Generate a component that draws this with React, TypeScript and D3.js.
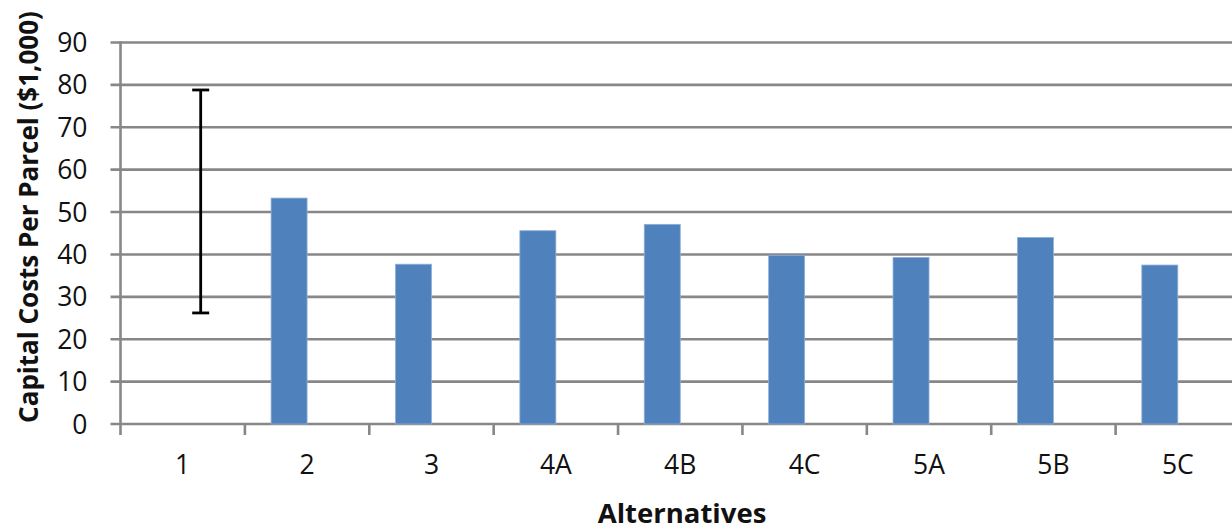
import React from "react";
import * as d3 from "d3";

const categories = ["1", "2", "3", "4A", "4B", "4C", "5A", "5B", "5C"];
const costValues: (number | null)[] = [null, 53.3, 37.7, 45.6, 47.1, 39.8, 39.3, 44.0, 37.5];
const rangeLow = [26.2];
const rangeHigh = [78.8];
const rangeCategories = ["1"];
const yTicks = [0, 10, 20, 30, 40, 50, 60, 70, 80, 90];

const W = 1232;
const H = 530;
const left = 120.5;
const right = 1240;
const top = 42.5;
const bottom = 424;
const grid = "#878787";
const font = "'Open Sans', sans-serif";

export default function App() {
  const x = d3.scaleBand<string>().domain(categories).range([left, right]).paddingInner(0).paddingOuter(0);
  const sub = d3.scaleBand<string>().domain(["cost", "range"]).range([0, x.bandwidth()]).paddingInner(0).paddingOuter(0.728);
  const y = d3.scaleLinear().domain([0, 90]).range([bottom, top]);
  const boundaries = categories.map((c) => x(c)!).concat([right]);

  return (
    <svg width={W} height={H} style={{ position: "absolute", left: 0, top: 0, background: "#fff" }}>
      {yTicks.map((t) => (
        <g key={t}>
          <line x1={left - 10} x2={W} y1={y(t)} y2={y(t)} stroke={grid} strokeWidth={2.6} />
          <text x={87.5} y={y(t)} dy="0.36em" textAnchor="end" fontFamily={font} fontSize={26.5} fill="#111">
            {t}
          </text>
        </g>
      ))}
      <line x1={left} x2={left} y1={top - 1} y2={bottom + 11} stroke={grid} strokeWidth={2.6} />
      {boundaries.slice(1).map((b, i) => (
        <line key={i} x1={b} x2={b} y1={bottom} y2={bottom + 11} stroke={grid} strokeWidth={2.6} />
      ))}
      {categories.map((c, i) => {
        const v = costValues[i];
        if (v == null) return null;
        const bx = x(c)! + sub("cost")!;
        return (
          <rect key={c} x={bx} y={y(v)} width={sub.bandwidth()} height={y(0) - y(v)} fill="#4F81BD" stroke="#8FAFD8" strokeWidth={0.8} />
        );
      })}
      {rangeCategories.map((c, i) => {
        const cx = x(c)! + sub("range")! + sub.bandwidth() / 2;
        return (
          <g key={c} stroke="#000" strokeWidth={2.8}>
            <line x1={cx} x2={cx} y1={y(rangeHigh[i])} y2={y(rangeLow[i])} />
            <line x1={cx - 8.5} x2={cx + 8.5} y1={y(rangeHigh[i])} y2={y(rangeHigh[i])} />
            <line x1={cx - 8.5} x2={cx + 8.5} y1={y(rangeLow[i])} y2={y(rangeLow[i])} />
          </g>
        );
      })}
      {categories.map((c) => (
        <text key={c} x={x(c)! + x.bandwidth() / 2} y={473.5} textAnchor="middle" fontFamily={font} fontSize={26.5} fill="#111">
          {c}
        </text>
      ))}
      <text x={682} y={522.5} textAnchor="middle" fontFamily={font} fontSize={27.5} fontWeight="bold" fill="#111">
        Alternatives
      </text>
      <text transform={`translate(38, 217) rotate(-90)`} textAnchor="middle" fontFamily={font} fontSize={26} fontWeight="bold" fill="#111">
        Capital Costs Per Parcel ($1,000)
      </text>
    </svg>
  );
}
